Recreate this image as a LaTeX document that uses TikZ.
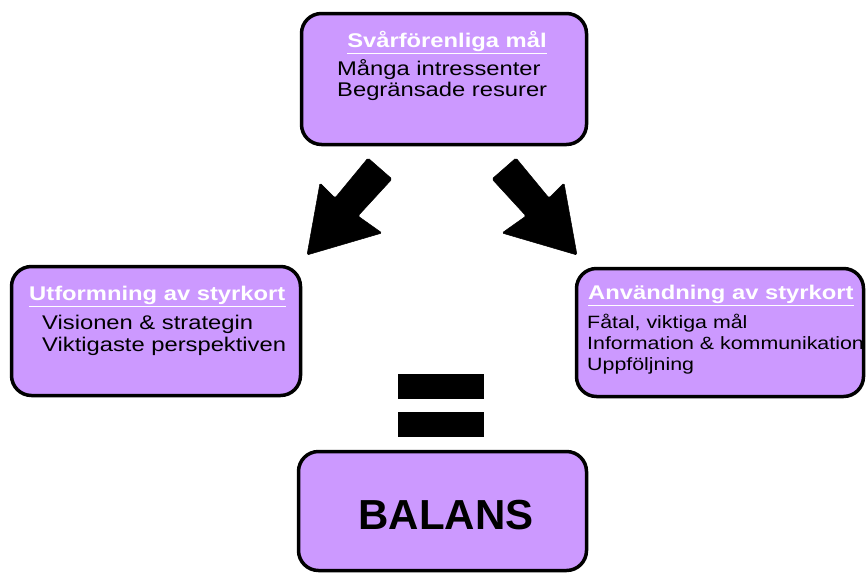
\documentclass[tikz,border=0pt]{standalone}
\usepackage{fontspec}
\setmainfont{Liberation Sans}[FakeStretch=1.2]
\newfontfamily\balfont{Liberation Sans}
\definecolor{boxfill}{HTML}{CC99FF}
\begin{document}
\begin{tikzpicture}[x=1pt,y=-1pt,
  box/.style={draw=black, line width=3.5pt, fill=boxfill, rounded corners=20pt, inner sep=0pt},
  ttl/.style={inner sep=0pt, text=white, font=\fontsize{19.8}{22}\selectfont\bfseries},
  txt/.style={anchor=base west, inner sep=0pt, text=black, font=\fontsize{19.8}{22}\selectfont},
  stxt/.style={anchor=base west, inner sep=0pt, text=black, font=\fontsize{17.8}{20}\selectfont},
  uline/.style={white, line width=1.8pt},
  bar/.style={fill=black, draw=none, inner sep=0pt, minimum width=86pt, minimum height=25pt},
  blockarrow/.style={fill=black, draw=black, line width=0.5pt, rounded corners=1.5pt}
]
\useasboundingbox (0,0) rectangle (866,576);

% boxes
\node[box, minimum width=285pt, minimum height=131pt] (top) at (444,79) {};
\node[box, minimum width=289pt, minimum height=129pt] (left) at (156,331) {};
\node[box, minimum width=287pt, minimum height=128pt] (right) at (720,332.5) {};
\node[box, minimum width=288pt, minimum height=119pt] (bal) at (442.5,511) {};

% top box text
\node[ttl, anchor=base] (t1) at (447,47) {Svårförenliga mål};
\draw[uline] ([yshift=-6.5pt]t1.base west) -- ([yshift=-6.5pt]t1.base east);
\node[txt] (t1a) at (337,75) {Många intressenter};
\node[txt] (t1b) at (337,96) {Begränsade resurer};

% left box text
\node[ttl, anchor=base west] (t2) at (29,300) {Utformning av styrkort};
\draw[uline] ([yshift=-6.5pt]t2.base west) -- ([yshift=-6.5pt]t2.base east);
\node[txt] (t2a) at (42,329) {Visionen \& strategin};
\node[txt] (t2b) at (42,351) {Viktigaste perspektiven};

% right box text
\node[ttl, anchor=base west] (t3) at (588,299) {Användning av styrkort};
\draw[uline] ([yshift=-6.5pt]t3.base west) -- ([yshift=-6.5pt]t3.base east);
\node[stxt] (t3a) at (587,328) {Fåtal, viktiga mål};
\node[stxt] (t3b) at (587,349) {Information \& kommunikation};
\node[stxt] (t3c) at (587,370) {Uppföljning};

% balans
\node[anchor=base, inner sep=0pt, font=\balfont\fontsize{42}{44}\selectfont\bfseries] (bt) at (446,529) {BALANS};

% equals sign
\node[bar] (eq1) at (441,386) {};
\node[bar] (eq2) at (441,424.5) {};

% block arrows
\fill[blockarrow] (307,255) -- (320,183) -- (335,198) -- (368,158) -- (392,179)
  -- (358,216) -- (382,233) -- cycle;
\fill[blockarrow] (577,255) -- (564,183) -- (549,198) -- (516,158) -- (492,179)
  -- (526,216) -- (502,233) -- cycle;
\end{tikzpicture}
\end{document}
